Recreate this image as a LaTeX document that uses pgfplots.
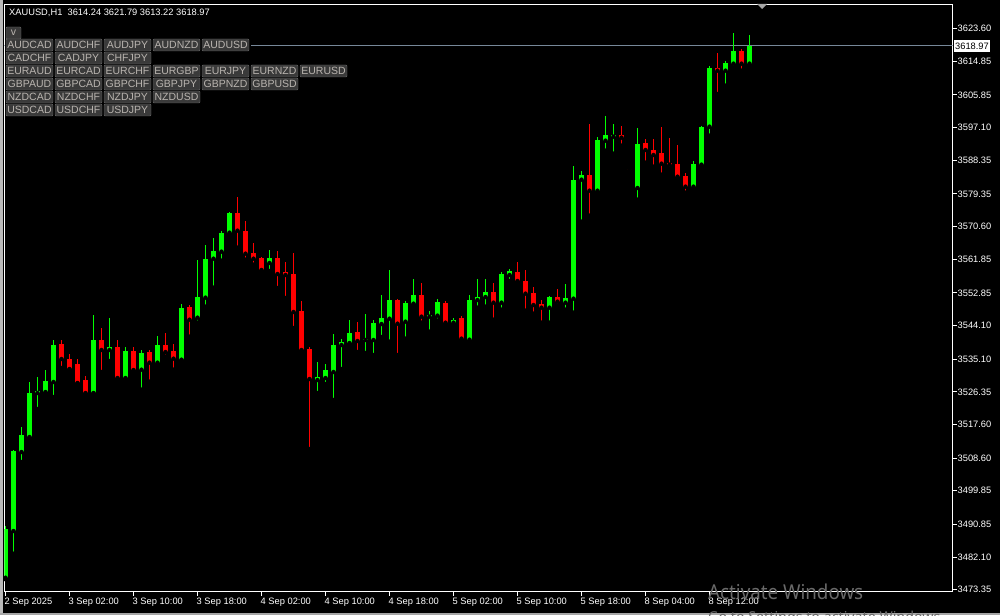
\documentclass[border=0pt]{standalone}
\usepackage{pgfplots}
\usepackage{pgfplotstable}
\pgfplotsset{compat=1.18}
\usepackage{fontspec}
\setmainfont{Liberation Sans}
\newfontfamily\wmfont{Noto Sans}
\definecolor{up}{RGB}{0,255,0}
\definecolor{dn}{RGB}{255,0,0}
\definecolor{bidline}{RGB}{119,136,153}
\definecolor{btnfill}{RGB}{58,58,58}
\definecolor{btnborder}{RGB}{105,105,105}
\definecolor{btntext}{RGB}{185,180,175}
\definecolor{wm}{RGB}{105,105,105}

\pgfplotstableread{
k o h l c
0 3476.56 3490.41 3476.14 3489.61
1 3489.07 3510.77 3482.99 3510.50
2 3510.23 3516.93 3507.55 3514.78
3 3514.25 3528.98 3514.00 3526.03
4 3526.03 3530.32 3521.75 3526.57
5 3526.30 3532.19 3525.76 3529.25
6 3528.98 3540.23 3524.96 3538.89
11 3526.03 3546.92 3525.90 3540.23
13 3537.55 3546.12 3534.60 3538.35
15 3530.05 3538.35 3529.78 3537.28
17 3532.27 3537.55 3526.92 3536.75
19 3534.15 3541.30 3533.61 3538.89
22 3534.95 3549.87 3534.80 3548.80
24 3546.20 3561.65 3544.86 3551.74
25 3551.56 3565.67 3549.15 3561.92
26 3562.00 3567.55 3554.24 3564.06
27 3563.88 3569.42 3561.47 3568.89
28 3568.97 3574.51 3568.43 3574.24
33 3560.85 3564.33 3558.71 3562.19
39 3529.51 3534.34 3526.03 3530.32
40 3530.05 3533.80 3528.44 3532.19
41 3531.66 3541.83 3524.16 3538.89
42 3538.89 3540.50 3532.46 3539.69
43 3539.42 3545.58 3538.35 3542.10
45 3540.23 3547.19 3536.75 3540.50
46 3540.23 3545.58 3536.21 3544.78
47 3544.51 3552.28 3541.03 3546.12
48 3545.93 3558.98 3539.77 3550.94
50 3545.13 3550.67 3540.58 3550.14
51 3549.95 3556.57 3549.68 3552.28
53 3546.47 3547.99 3542.45 3547.00
54 3546.74 3551.21 3545.40 3550.41
56 3544.86 3546.12 3544.06 3545.58
58 3540.31 3552.28 3539.77 3550.94
59 3550.94 3556.57 3548.88 3551.74
60 3551.74 3556.57 3549.15 3553.08
62 3550.22 3558.44 3548.34 3557.90
63 3557.64 3559.24 3556.03 3558.71
68 3548.88 3551.90 3544.86 3551.74
70 3550.22 3555.23 3548.34 3551.48
71 3551.29 3586.83 3547.54 3583.08
72 3583.16 3585.49 3571.91 3584.42
74 3580.21 3594.60 3579.41 3593.79
75 3593.61 3600.22 3590.93 3595.13
76 3594.68 3598.08 3590.12 3595.13
79 3580.94 3597.01 3577.80 3592.72
86 3581.29 3588.17 3580.75 3587.37
87 3587.18 3597.54 3586.91 3597.28
88 3597.36 3613.61 3594.95 3613.08
90 3612.35 3614.95 3608.34 3614.42
91 3614.23 3622.45 3613.16 3617.63
93 3614.24 3621.79 3613.22 3618.97
}\upcandles

\pgfplotstableread{
k o h l c
7 3539.16 3540.23 3532.73 3535.14
8 3535.14 3536.48 3532.30 3532.46
9 3533.80 3535.14 3528.60 3528.71
10 3529.51 3530.59 3525.76 3526.03
12 3540.23 3543.44 3531.66 3537.55
14 3538.35 3540.23 3529.25 3530.05
16 3537.28 3538.35 3531.66 3532.19
18 3537.01 3537.55 3529.06 3534.15
20 3538.89 3542.10 3535.76 3537.01
21 3537.28 3539.16 3532.27 3535.22
23 3549.07 3549.60 3541.11 3545.66
29 3574.24 3578.53 3564.95 3569.50
30 3569.42 3572.10 3561.73 3563.34
31 3563.53 3566.21 3560.40 3562.00
32 3562.19 3562.46 3558.44 3558.98
34 3562.19 3564.06 3554.15 3557.90
35 3558.44 3561.12 3551.48 3557.64
36 3557.90 3563.53 3543.44 3547.73
37 3547.99 3550.67 3537.28 3537.55
38 3537.82 3538.35 3511.03 3529.78
44 3542.37 3545.05 3537.01 3539.96
49 3550.94 3551.21 3536.21 3544.59
52 3552.28 3555.49 3544.86 3546.47
55 3550.14 3550.67 3544.33 3544.86
57 3546.12 3546.66 3540.04 3540.58
61 3553.08 3555.49 3545.66 3550.22
64 3558.44 3561.12 3555.49 3556.03
65 3556.03 3558.98 3548.08 3552.63
66 3552.82 3554.42 3547.27 3549.60
67 3549.87 3550.94 3544.86 3548.88
69 3551.74 3553.89 3549.41 3550.49
73 3584.42 3598.08 3573.52 3580.21
77 3595.13 3597.54 3592.27 3594.41
78 3586.05 3586.05 3585.85 3585.85
80 3592.99 3594.06 3587.71 3591.12
81 3591.12 3594.06 3586.64 3589.78
82 3590.31 3597.28 3584.50 3587.45
83 3587.71 3594.33 3586.11 3587.18
84 3587.37 3592.45 3583.54 3583.96
85 3584.15 3584.96 3579.68 3581.29
89 3613.08 3617.10 3606.11 3612.35
92 3617.63 3618.17 3612.35 3614.23
}\dncandles

\begin{document}
\begin{tikzpicture}[x=1pt,y=1pt]
\fill[black] (0,0) rectangle (1000,615);
\fill[gray!55] (0,0) rectangle (3,615);
\begin{axis}[
  at={(4.5pt,23.3pt)}, anchor=south west, scale only axis,
  width=948pt, height=587.2pt,
  xmin=-0.125, xmax=118.375, ymin=3472.82, ymax=3630.08,
  axis line style={white, line width=1pt},
  xtick={0,8,16,24,32,40,48,56,64,72,80,88},
  xticklabels={2 Sep 2025,3 Sep 02:00,3 Sep 10:00,3 Sep 18:00,4 Sep 02:00,4 Sep 10:00,4 Sep 18:00,5 Sep 02:00,5 Sep 10:00,5 Sep 18:00,8 Sep 04:00,8 Sep 12:00},
  ytick={3473.35,3482.10,3490.85,3499.85,3508.60,3517.60,3526.35,3535.10,3544.10,3552.85,3561.85,3570.60,3579.35,3588.35,3597.10,3605.85,3614.85,3623.60},
  yticklabels={3473.35,3482.10,3490.85,3499.85,3508.60,3517.60,3526.35,3535.10,3544.10,3552.85,3561.85,3570.60,3579.35,3588.35,3597.10,3605.85,3614.85,3623.60},
  xtick pos=bottom, ytick pos=right, tick align=outside,
  major tick length=4pt,
  tick style={white, line width=1pt},
  ticklabel style={font=\fontsize{9.3}{11}\selectfont, text=white},
  xticklabel style={anchor=north west, inner sep=0pt, xshift=-1pt, yshift=-2pt},
  yticklabel style={anchor=west, inner sep=0pt, xshift=1pt},
]
\addplot[bidline, line width=1pt] coordinates {(-0.125,3618.97) (118.375,3618.97)};
% wicks (low to high)
\addplot[only marks, mark=none, error bars/.cd, y dir=plus, y explicit, error mark=none,
  error bar style={draw=up, line width=1pt}]
  table[x=k, y=l, y error plus expr={\thisrow{h}-\thisrow{l}}] {\upcandles};
\addplot[only marks, mark=none, error bars/.cd, y dir=plus, y explicit, error mark=none,
  error bar style={draw=dn, line width=1pt}]
  table[x=k, y=l, y error plus expr={\thisrow{h}-\thisrow{l}}] {\dncandles};
% bodies (open to close)
\addplot[only marks, mark=none, error bars/.cd, y dir=plus, y explicit, error mark=none,
  error bar style={draw=up, line width=5pt}]
  table[x=k, y expr={min(\thisrow{o},\thisrow{c})}, y error plus expr={max(abs(\thisrow{c}-\thisrow{o}),0.3)}] {\upcandles};
\addplot[only marks, mark=none, error bars/.cd, y dir=plus, y explicit, error mark=none,
  error bar style={draw=dn, line width=5pt}]
  table[x=k, y expr={min(\thisrow{o},\thisrow{c})}, y error plus expr={max(abs(\thisrow{c}-\thisrow{o}),0.3)}] {\dncandles};
\end{axis}
% current price label
\node[fill=white, text=black, anchor=west, inner xsep=1.5pt, inner ysep=0pt, minimum height=12pt,
  font=\fontsize{9.3}{11}\selectfont] at (953.5,569) {3618.97};
% header
\node[anchor=base west, inner sep=0pt, text=white, font=\fontsize{9.3}{11}\selectfont] at (9,599) {XAUUSD,H1\ \ 3614.24 3621.79 3613.22 3618.97};
% chart shift marker
\fill[gray!70] (757,611) -- (767,611) -- (762,606) -- cycle;
% button panel backdrop
\fill[black] (5,498) rectangle (251,577);
\fill[black] (5,551) rectangle (349,564);
% buttons
\node[draw=btnborder, fill=btnfill, rounded corners=1pt, minimum width=15pt, minimum height=12pt, inner sep=0pt,
  text=btntext, font=\fontsize{10.5}{11}\selectfont] at (13.5,582) {v};
\foreach \r/\names in {0/{AUDCAD,AUDCHF,AUDJPY,AUDNZD,AUDUSD},
                       1/{CADCHF,CADJPY,CHFJPY},
                       2/{EURAUD,EURCAD,EURCHF,EURGBP,EURJPY,EURNZD,EURUSD},
                       3/{GBPAUD,GBPCAD,GBPCHF,GBPJPY,GBPNZD,GBPUSD},
                       4/{NZDCAD,NZDCHF,NZDJPY,NZDUSD},
                       5/{USDCAD,USDCHF,USDJPY}} {
  \foreach \n [count=\c from 0] in \names {
    \node[draw=btnborder, fill=btnfill, rounded corners=1pt, minimum width=47pt, minimum height=12pt, inner sep=0pt,
      text=btntext, font=\fontsize{10.5}{11}\selectfont] at ({29.5+49*\c},{570-13*\r}) {\n};
  }
}
% window border bottom
\fill[gray!70] (0,0) rectangle (1000,2.5);
% watermark
\node[anchor=base west, inner sep=0pt, text=wm, font=\wmfont\fontsize{20.5}{22}\selectfont] at (708,16) {\resizebox{155pt}{\height}{Activate Windows}};
\node[anchor=base west, inner sep=0pt, text=wm, font=\wmfont\fontsize{15}{16}\selectfont] at (708,-7) {\resizebox{236pt}{\height}{Go to Settings to activate Windows.}};
\pgfresetboundingbox
\path[use as bounding box] (0,0) rectangle (1000,615);
\end{tikzpicture}
\end{document}
